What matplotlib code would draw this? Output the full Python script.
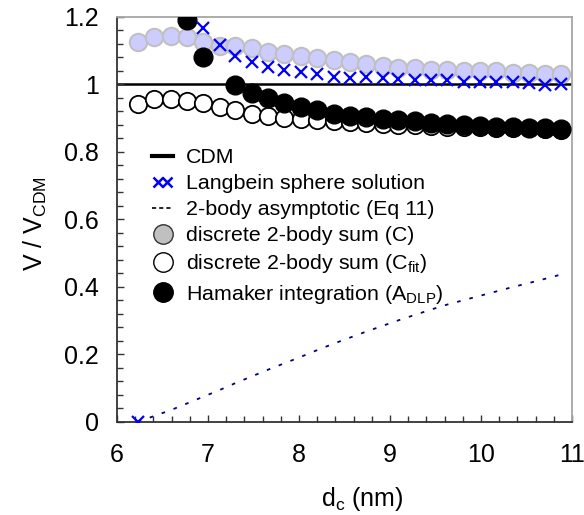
import matplotlib
matplotlib.use('Agg')
import matplotlib.pyplot as plt
from matplotlib.lines import Line2D
from matplotlib.legend_handler import HandlerLine2D
from matplotlib.ticker import MultipleLocator, FuncFormatter

plt.rcParams['font.family'] = ['Liberation Sans', 'DejaVu Sans']
plt.rcParams['mathtext.fontset'] = 'custom'
plt.rcParams['mathtext.rm'] = 'Liberation Sans'
plt.rcParams['mathtext.it'] = 'Liberation Sans:italic'

# separation d_c (nm)
dc = [6.23, 6.41, 6.59, 6.77, 6.95, 7.13, 7.30, 7.48, 7.66, 7.84, 8.02, 8.20, 8.38,
      8.56, 8.74, 8.92, 9.09, 9.27, 9.45, 9.63, 9.81, 9.99, 10.17, 10.35, 10.53, 10.70, 10.88]

# discrete 2-body sum (C)
v_c = [1.127, 1.141, 1.143, 1.141, 1.127, 1.114, 1.114, 1.107, 1.097, 1.090, 1.083, 1.078, 1.073,
       1.066, 1.060, 1.055, 1.050, 1.048, 1.044, 1.043, 1.039, 1.040, 1.040, 1.035, 1.033, 1.031, 1.031]

# discrete 2-body sum (C_fit)
v_cfit = [0.942, 0.956, 0.957, 0.950, 0.944, 0.933, 0.924, 0.914, 0.907, 0.901, 0.897, 0.894, 0.892,
          0.890, 0.887, 0.884, 0.881, 0.879, 0.877, 0.875, 0.874, 0.873, 0.872, 0.871, 0.870, 0.868, 0.866]

# 2-body asymptotic (Eq 11)
v_asym = [0.0, 0.018, 0.035, 0.055, 0.075, 0.095, 0.115, 0.135, 0.155, 0.174, 0.193, 0.213, 0.232,
          0.250, 0.268, 0.285, 0.301, 0.317, 0.333, 0.348, 0.361, 0.374, 0.387, 0.400, 0.412, 0.424, 0.437]

# Langbein sphere solution
dc_lang = [6.23, 6.95, 7.13, 7.30, 7.48, 7.66, 7.84, 8.02, 8.20, 8.38, 8.56, 8.74, 8.92,
           9.09, 9.27, 9.45, 9.63, 9.81, 9.99, 10.17, 10.35, 10.53, 10.70, 10.88]
v_lang = [0.0, 1.166, 1.117, 1.085, 1.068, 1.052, 1.042, 1.038, 1.032, 1.023, 1.020, 1.022, 1.018,
          1.015, 1.013, 1.013, 1.013, 1.006, 1.006, 1.008, 1.008, 1.005, 0.999, 1.001]

# Hamaker integration (A_DLP)
dc_ham = [6.77, 6.95, 7.30, 7.48, 7.66, 7.84, 8.02, 8.20, 8.38, 8.56, 8.74, 8.92,
          9.09, 9.27, 9.45, 9.63, 9.81, 9.99, 10.17, 10.35, 10.53, 10.70, 10.88]
v_ham = [1.191, 1.082, 0.999, 0.975, 0.960, 0.945, 0.932, 0.924, 0.912, 0.907, 0.903, 0.899,
         0.894, 0.891, 0.887, 0.883, 0.879, 0.876, 0.874, 0.873, 0.872, 0.870, 0.868]

fig = plt.figure(figsize=(5.84, 5.15), dpi=100)
ax = fig.add_axes([0.2003, 0.1806, 0.7792, 0.7864])

ax.axhline(1.0, color='black', lw=1.8, zorder=1.5)
ax.plot(dc, v_asym, color='#000080', lw=1.3, dashes=(2, 5), zorder=2)
ax.plot(dc, v_c, 'o', ms=12.5, mfc='#ccccff', mec='#c0c0c0', mew=1.5, zorder=2)
ax.plot(dc, v_cfit, 'o', ms=12.5, mfc='white', mec='black', mew=1.3, zorder=3)
ax.plot(dc_ham, v_ham, 'o', ms=13.5, mfc='black', mec='black', mew=1, zorder=4)
ax.plot(dc_lang, v_lang, 'x', ms=8.5, color='#0000ff', mew=1.6, zorder=5)

ax.set_xlim(6, 11)
ax.set_ylim(0, 1.2)
ax.xaxis.set_major_locator(MultipleLocator(1))
ax.xaxis.set_minor_locator(MultipleLocator(0.2))
ax.yaxis.set_major_locator(MultipleLocator(0.2))
ax.yaxis.set_minor_locator(MultipleLocator(0.04))
ax.yaxis.set_major_formatter(FuncFormatter(lambda v, p: '%g' % round(v, 2)))

ax.tick_params(which='both', direction='in', top=False, right=False, color='#333333')
ax.tick_params(which='major', length=5, width=1)
ax.tick_params(which='minor', length=4.5, width=1)
ax.tick_params(axis='x', which='major', labelsize=18, pad=15)
ax.tick_params(axis='y', which='major', labelsize=18, pad=13)

for s in ['left', 'bottom']:
    ax.spines[s].set_color('#333333')
    ax.spines[s].set_linewidth(1.3)
for s in ['top', 'right']:
    ax.spines[s].set_color('#a6a6a6')
    ax.spines[s].set_linewidth(1.3)

ax.set_xlabel(r'd$_{\mathrm{c}}$ (nm)', fontsize=18)
ax.set_ylabel(r'V / V$_{\mathrm{CDM}}$', fontsize=18)
ax.xaxis.set_label_coords(0.54, -0.155)
ax.yaxis.set_label_coords(-0.15, 0.49)

h_cdm = Line2D([], [], color='black', lw=3)
h_lang = Line2D([], [], ls='none', marker='x', ms=6.5, mew=1.8, color='#0000ff')
h_asym = Line2D([], [], color='black', lw=1.2, dashes=(2.5, 1.8))
h_c = Line2D([], [], ls='none', marker='o', ms=14, mfc='#c0c0c0', mec='#333333', mew=1)
h_cfit = Line2D([], [], ls='none', marker='o', ms=14, mfc='white', mec='black', mew=1)
h_ham = Line2D([], [], ls='none', marker='o', ms=14, mfc='black', mec='black', mew=1)

labels = ['CDM', 'Langbein sphere solution', '2-body asymptotic (Eq 11)',
          'discrete 2-body sum (C)', r'discrete 2-body sum (C$_{\mathrm{fit}}$)',
          r'Hamaker integration (A$_{\mathrm{DLP}}$)']
ax.legend([h_cdm, h_lang, h_asym, h_c, h_cfit, h_ham], labels,
          handler_map={h_lang: HandlerLine2D(numpoints=2)},
          loc='upper left', bbox_to_anchor=(0.077, 0.676), frameon=False,
          fontsize=15.4, handlelength=1.0, handletextpad=0.6, labelspacing=0.33,
          borderpad=0, borderaxespad=0, numpoints=1)

fig.savefig('out.png', dpi=100)
